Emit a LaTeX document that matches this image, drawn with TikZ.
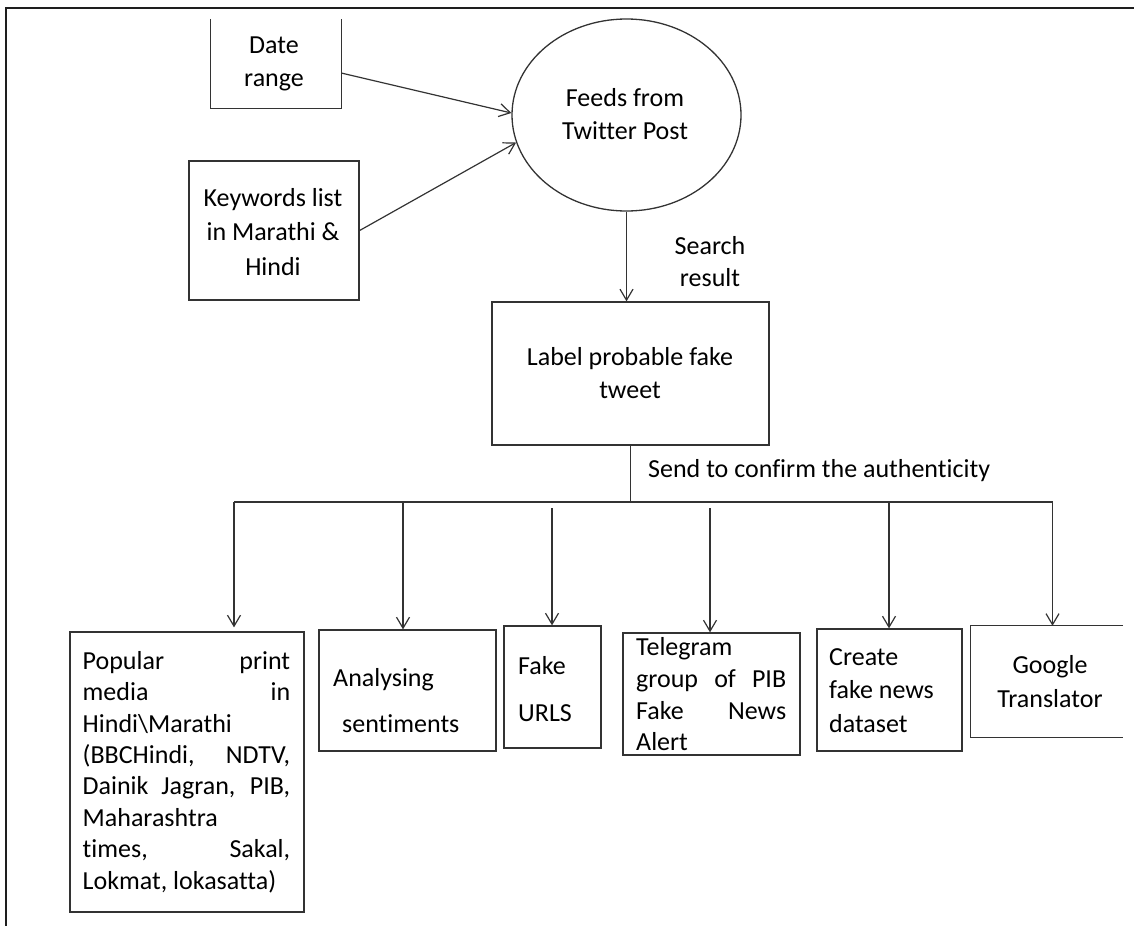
\documentclass[tikz,border=0pt]{standalone}
\usepackage{fontspec}
\setmainfont{Carlito}[Ligatures=NoCommon]
\usetikzlibrary{shapes.geometric,arrows.meta,calc}
\definecolor{ink}{HTML}{333333}
\definecolor{framec}{HTML}{1E1E1E}
\begin{document}
\begin{tikzpicture}[x=1pt,y=-1pt,
  box/.style={draw=ink, line width=1.3pt, rectangle, inner sep=0pt},
  openbox/.style={rectangle, inner sep=0pt},
  txt/.style={text=black, inner sep=0pt},
  conn/.style={draw=ink, line width=1.2pt},
  arr/.style={draw=ink, line width=1.2pt, -{Straight Barb[length=11pt,width=13pt,line width=1.2pt]}},
]
\useasboundingbox (0,0) rectangle (1134,926);
% frame
\draw[framec, line width=2.8pt] (1134,8) -- (6,8) -- (6,926);

% boxes
\node[openbox, minimum width=130pt, minimum height=89pt] (date) at (276,63.5) {};
\draw[conn] (date.north west) -- (date.south west) -- (date.south east) -- (date.north east);
\node[box, minimum width=170pt, minimum height=139pt] (kw) at (274,230.5) {};
\node[draw=ink, line width=1.3pt, ellipse, inner sep=0pt, minimum width=229pt, minimum height=192pt] (feeds) at (626.5,115) {};
\node[box, minimum width=277pt, minimum height=143pt] (label) at (630.5,373.5) {};
\node[box, minimum width=234pt, minimum height=280pt] (m1) at (187,772) {};
\node[box, minimum width=177pt, minimum height=121pt] (m2) at (407.5,690.5) {};
\node[box, minimum width=97pt, minimum height=122pt] (m3) at (552.5,687) {};
\node[box, minimum width=177pt, minimum height=122pt] (m4) at (711.5,694) {};
\node[box, minimum width=145pt, minimum height=122pt] (m5) at (889.5,690) {};
\node[openbox, minimum width=158pt, minimum height=111pt] (m6) at (1050,681.5) {};
\draw[conn] ([xshift=-6pt]m6.north east) -- (m6.north west) -- (m6.south west) -- ([xshift=-6pt]m6.south east);

% texts
\node[txt, align=center, font=\fontsize{26}{33}\selectfont] (tdate) at (274,63.5) {Date\\range};
\node[txt, align=center, font=\fontsize{26}{34.5}\selectfont] (tkw) at (273,232) {Keywords list\\in Marathi \&\\Hindi};
\node[txt, align=center, font=\fontsize{26}{33}\selectfont] (tfeeds) at (625,114.5) {Feeds from\\Twitter Post};
\node[txt, align=center, font=\fontsize{26}{32}\selectfont] (tsearch) at (710,262) {Search\\result};
\node[txt, align=center, font=\fontsize{26}{33}\selectfont] (tlabel) at (630,373.5) {Label probable fake\\tweet};
\node[txt, anchor=west, font=\fontsize{26}{33}\selectfont] (tsend) at (648,471) {Send to confirm the authenticity};
\node[txt, anchor=west, align=left, font=\fontsize{26}{31.4}\selectfont] (t1) at (82.5,772) {%
\makebox[207.5pt][s]{Popular print}\\
\makebox[207.5pt][s]{media in}\\
Hindi\textbackslash Marathi\\
\makebox[207.5pt][s]{(BBCHindi, NDTV,}\\
\makebox[207.5pt][s]{Dainik Jagran, PIB,}\\
Maharashtra\\
\makebox[207.5pt][s]{times, Sakal,}\\
Lokmat, lokasatta)};
\node[txt, anchor=west, align=left, font=\fontsize{26}{46}\selectfont] (t2) at (333,701) {Analysing\\\hspace*{9pt}sentiments};
\node[txt, anchor=west, align=left, font=\fontsize{26}{47}\selectfont] (t3) at (518,689.5) {Fake\\URLS};
\node[txt, anchor=west, align=left, font=\fontsize{26}{31.7}\selectfont] (t4) at (636,694.5) {%
Telegram\\
\makebox[150pt][s]{group of PIB}\\
\makebox[150pt][s]{Fake News}\\
Alert};
\node[txt, anchor=west, align=left, font=\fontsize{26}{33.5}\selectfont] (t5) at (829,690.5) {Create\\fake news\\dataset};
\node[txt, align=center, font=\fontsize{26}{34}\selectfont] (t6) at (1050,682) {Google\\Translator};

% connectors
\draw[arr] ([yshift=-9.5pt]date.east) -- (feeds.179);
\draw[arr] (kw.east) -- (feeds.194);
\draw[arr] (feeds.south) -- (feeds.south |- label.north);
\coordinate (busL) at (234,502);
\coordinate (busR) at (1052.5,502);
\draw[conn] (label.south) -- (label.south |- busL);
\draw[conn] (busL) -- (busR);
\coordinate (s1) at (234,502);
\coordinate (s2) at (403,502);
\coordinate (s3) at (552,508);
\coordinate (s4) at (710,508);
\coordinate (s5) at (889,502);
\coordinate (s6) at (1052.5,502);
\draw[arr, shorten >=4pt] (s1) -- (s1 |- m1.north);
\draw[arr] (s2) -- (s2 |- m2.north);
\draw[arr] (s3) -- (s3 |- m3.north);
\draw[arr] (s4) -- (s4 |- m4.north);
\draw[arr] (s5) -- (s5 |- m5.north);
\draw[arr] (s6) -- (s6 |- m6.north);
\end{tikzpicture}
\end{document}
